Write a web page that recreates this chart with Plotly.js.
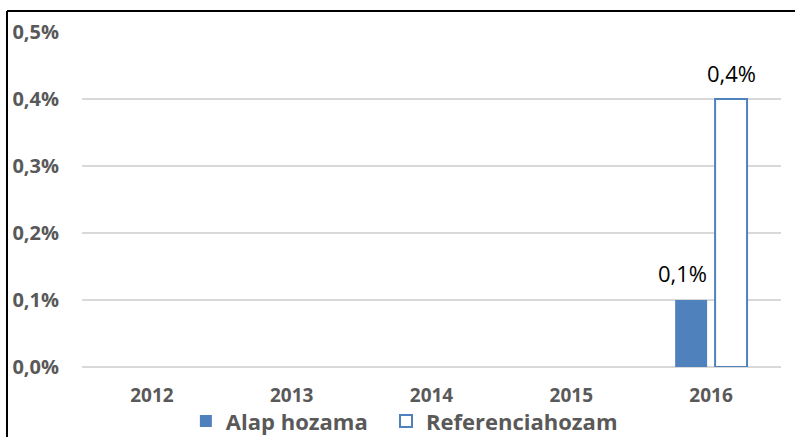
<!DOCTYPE html>
<html>
<head>
<meta charset="utf-8">
<script src="https://cdn.plot.ly/plotly-3.0.1.min.js"></script>
<style>html,body{margin:0;padding:0;background:#fff}#chart{width:795px;height:437px}</style>
</head>
<body>
<div id="chart"></div>
<script>
const years = ['2012', '2013', '2014', '2015', '2016'];
const alapHozama = [null, null, null, null, 0.001];
const referenciahozam = [null, null, null, null, 0.004];
const seriesNames = ['Alap hozama', 'Referenciahozam'];
const yTicks = [0, 0.001, 0.002, 0.003, 0.004, 0.005];

const blue = '#4F81BD';
const gray = '#595959';
const fontFam = '"Open Sans", "Liberation Sans", sans-serif';

const traces = [
  {
    type: 'bar', name: seriesNames[0], x: years, y: alapHozama, legend: 'legend',
    marker: {color: blue, line: {width: 0}},
    hoverinfo: 'skip'
  },
  {
    type: 'bar', name: seriesNames[1], x: years, y: referenciahozam, legend: 'legend2',
    marker: {color: '#ffffff', line: {color: blue, width: 2}},
    hoverinfo: 'skip'
  }
];

function fmt(v) { return (v * 100).toFixed(1).replace('.', ',') + '%'; }

const annotations = [];
[[alapHozama, -29, 27], [referenciahozam, 20, 26]].forEach(([arr, xs, ys]) => {
  arr.forEach((v, i) => {
    if (v === null) return;
    annotations.push({
      x: i, y: v, xref: 'x', yref: 'y', text: fmt(v), showarrow: false,
      xanchor: 'center', yanchor: 'middle', xshift: xs, yshift: ys,
      font: {family: fontFam, size: 22, color: '#000'}
    });
  });
});

const legendBase = {
  orientation: 'h', xanchor: 'left', y: -0.162, yanchor: 'middle',
  font: {family: fontFam, size: 22, color: gray, weight: 'bold'},
  itemclick: false, bgcolor: 'rgba(0,0,0,0)'
};

const layout = {
  width: 795, height: 437,
  margin: {l: 82, r: 14, t: 32, b: 70, pad: 0, autoexpand: false},
  paper_bgcolor: '#fff', plot_bgcolor: '#fff',
  separators: ', ',
  barmode: 'group', bargap: 0.4286, bargroupgap: 0.2,
  showlegend: true,
  legend: Object.assign({}, legendBase, {x: 0.1486}),
  legend2: Object.assign({}, legendBase, {x: 0.4349}),
  xaxis: {
    type: 'category', categoryorder: 'array', categoryarray: years,
    range: [-0.5, years.length - 0.5], autorange: false,
    showgrid: false, zeroline: false, showline: false,
    ticks: '', ticklabelstandoff: 15,
    tickfont: {family: fontFam, size: 19, color: gray, weight: 'bold'}
  },
  yaxis: {
    range: [0, 0.005], autorange: false, tickvals: yTicks, tickformat: '.1%',
    showgrid: true, gridcolor: '#D9D9D9', gridwidth: 1.5,
    zeroline: true, zerolinecolor: '#D9D9D9', zerolinewidth: 1.5,
    showline: false, ticks: '', ticklabelstandoff: 22,
    tickfont: {family: fontFam, size: 20, color: gray, weight: 'bold'}
  },
  annotations: annotations,
  shapes: [
    {type: 'line', xref: 'paper', yref: 'paper', x0: -0.1073, x1: -0.1073, y0: -0.3, y1: 1.0627,
     line: {color: '#000', width: 2}},
    {type: 'line', xref: 'paper', yref: 'paper', x0: -0.1073, x1: 1.05, y0: 1.0627, y1: 1.0627,
     line: {color: '#000', width: 2}}
  ]
};

Plotly.newPlot('chart', traces, layout, {displayModeBar: false, staticPlot: true});
</script>
</body>
</html>
